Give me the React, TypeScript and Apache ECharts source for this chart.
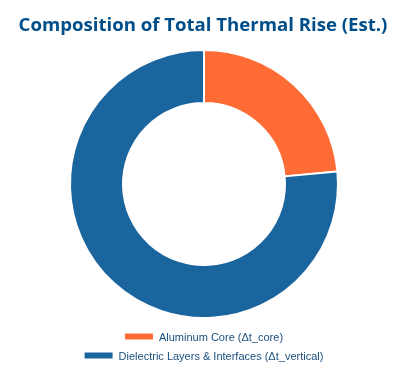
import React, { useEffect, useRef } from "react";
import * as echarts from "echarts";

const categories = ["Aluminum Core (Δt_core)", "Dielectric Layers & Interfaces (Δt_vertical)"];
const values = [23.5, 76.5];
const colors = ["#FF6B35", "#1A659E"];

export default function App() {
  const ref = useRef<HTMLDivElement>(null);
  useEffect(() => {
    const chart = echarts.init(ref.current!, null, { renderer: "svg" });
    const legendBase = {
      orient: "horizontal",
      left: "center",
      icon: "rect",
      itemWidth: 30,
      itemHeight: 8,
      textStyle: { color: "#1A4F7E", fontSize: 11, fontFamily: "Liberation Sans" },
    };
    chart.setOption({
      animation: false,
      title: {
        text: "Composition of Total Thermal Rise (Est.)",
        left: "center",
        top: 9,
        textStyle: { color: "#004E89", fontSize: 18.6, fontWeight: "bold", fontFamily: "Open Sans" },
      },
      legend: [
        { ...legendBase, top: 326, data: [categories[0]] },
        { ...legendBase, top: 345, data: [categories[1]] },
      ],
      series: [
        {
          type: "pie",
          center: [204, 184],
          radius: [81, 134],
          startAngle: 90,
          clockwise: true,
          label: { show: false },
          labelLine: { show: false },
          itemStyle: { borderColor: "#fff", borderWidth: 2 },
          data: categories.map((name, i) => ({ name, value: values[i], itemStyle: { color: colors[i] } })),
        },
      ],
    });
    return () => chart.dispose();
  }, []);
  return <div ref={ref} style={{ position: "fixed", left: 0, top: 0, width: 406, height: 382 }} />;
}
